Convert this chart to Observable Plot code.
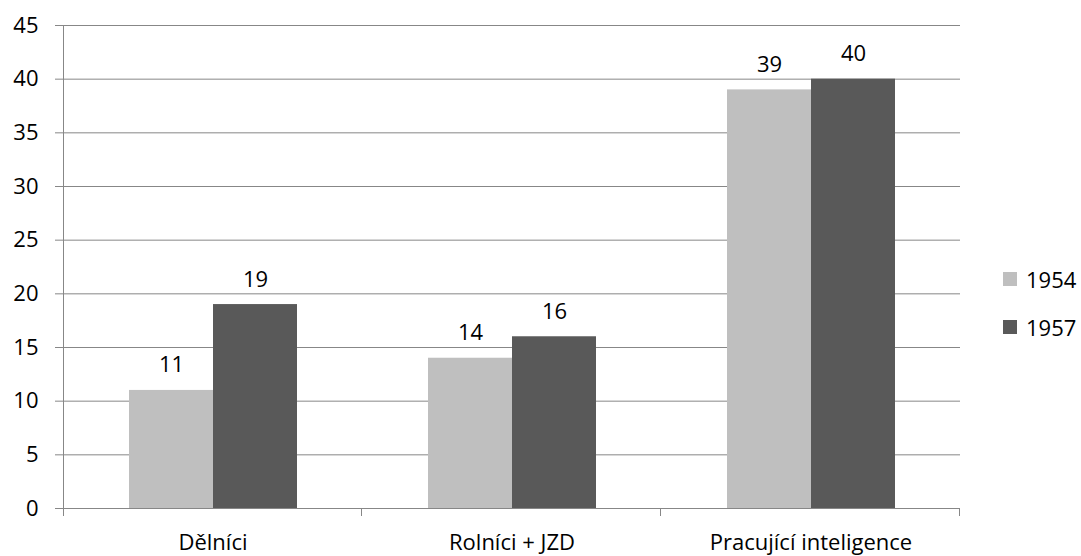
<!DOCTYPE html>
<html>
<head>
<meta charset="utf-8">
<script src="https://cdn.jsdelivr.net/npm/d3@7"></script>
<script src="https://cdn.jsdelivr.net/npm/@observablehq/plot@0.6"></script>
<style>
  html, body { margin: 0; padding: 0; background: #fff; }
  #wrap { position: relative; width: 1081px; height: 556px; font-family: "Open Sans", sans-serif; }
  #legend { position: absolute; left: 1003px; top: 255px; font-size: 22px; color: #000; }
  .item { display: flex; align-items: center; height: 48px; }
  .sw { width: 14px; height: 14px; margin-right: 9px; }
</style>
</head>
<body>
<div id="wrap"></div>
<script>
const categories = ["Dělníci", "Rolníci + JZD", "Pracující inteligence"];
const years = ["1954", "1957"];
const values1954 = [11, 14, 39];
const values1957 = [19, 16, 40];
const colors = ["#bfbfbf", "#595959"];
const yTicks = [0, 5, 10, 15, 20, 25, 30, 35, 40, 45];

const data = [];
categories.forEach((c, i) => {
  data.push({cat: c, year: years[0], value: values1954[i]});
  data.push({cat: c, year: years[1], value: values1957[i]});
});

const font = "'Open Sans', sans-serif";
const plot = Plot.plot({
  width: 1081,
  height: 556,
  marginLeft: 62,
  marginRight: 121,
  marginTop: 25,
  marginBottom: 48,
  style: {fontFamily: font, fontSize: "22px", color: "#000", background: "#fff"},
  fx: {domain: categories, padding: 0, label: null},
  x: {domain: years, paddingInner: 0, paddingOuter: 0.76, axis: null},
  y: {domain: [0, 45], ticks: yTicks, label: null},
  color: {domain: years, range: colors},
  marks: [
    Plot.gridY(yTicks, {stroke: "#878787", strokeOpacity: 1, strokeWidth: 1}),
    Plot.axisY(yTicks, {tickSize: 8, tickPadding: 17, stroke: "#878787", fontSize: 22, label: null, fill: "#000"}),
    Plot.axisFx({anchor: "bottom", tickSize: 0, tickPadding: 26, fontSize: 22, label: null, fill: "#000"}),
    Plot.barY(data, {fx: "cat", x: "year", y: "value", fill: "year"}),
    Plot.text(data, {fx: "cat", x: "year", y: "value", text: d => String(d.value), lineAnchor: "bottom", dy: -18, fontSize: 22, fill: "#000"})
  ]
});

// axis lines and category tick marks drawn from Plot's own scales
const fx = plot.scale("fx");
const y = plot.scale("y");
const y0 = y.apply(0), yTop = y.apply(45);
const xLeft = fx.apply(categories[0]);
const svg = d3.select(plot);
const g = svg.append("g").attr("stroke", "#878787").attr("stroke-width", 1);
g.append("line").attr("x1", xLeft + 0.5).attr("x2", xLeft + 0.5).attr("y1", yTop).attr("y2", y0 + 8);
g.append("line").attr("x1", xLeft - 8).attr("x2", fx.apply(categories[categories.length - 1]) + fx.bandwidth).attr("y1", y0 + 0.5).attr("y2", y0 + 0.5);
categories.forEach((c, i) => {
  const xb = fx.apply(c) + fx.bandwidth;
  g.append("line").attr("x1", xb - 0.5).attr("x2", xb - 0.5).attr("y1", y0).attr("y2", y0 + 8);
});

const wrap = document.getElementById("wrap");
wrap.appendChild(plot);
const legend = document.createElement("div");
legend.id = "legend";
years.forEach((yr, i) => {
  const it = document.createElement("div");
  it.className = "item";
  it.innerHTML = `<div class="sw" style="background:${colors[i]}"></div><span>${yr}</span>`;
  legend.appendChild(it);
});
wrap.appendChild(legend);
</script>
</body>
</html>
